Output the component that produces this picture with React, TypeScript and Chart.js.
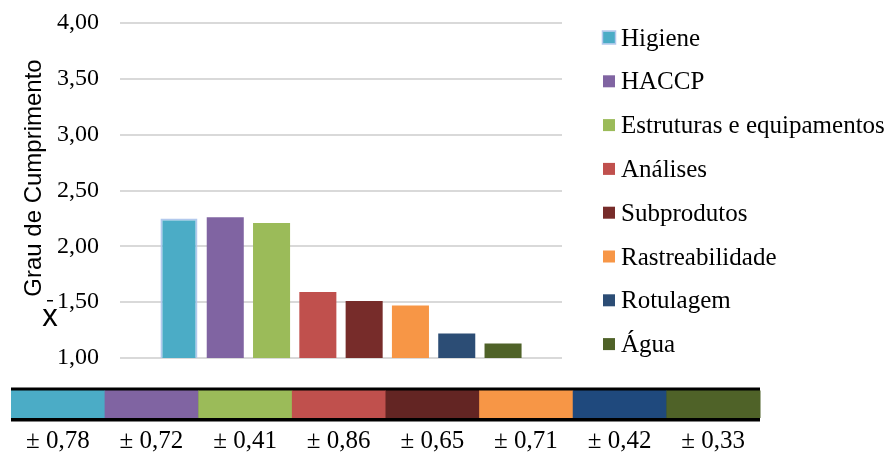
import React, { useEffect, useRef } from "react";
import { Chart, registerables } from "chart.js";

Chart.register(...registerables);

// Compliance categories and their mean score (x̄) with standard deviation
const categories = [
  "Higiene",
  "HACCP",
  "Estruturas e equipamentos",
  "Análises",
  "Subprodutos",
  "Rastreabilidade",
  "Rotulagem",
  "Água",
];
const means = [2.25, 2.26, 2.21, 1.59, 1.51, 1.47, 1.22, 1.13];
const deviations = [0.78, 0.72, 0.41, 0.86, 0.65, 0.71, 0.42, 0.33];
const barColors = [
  "#4BACC6",
  "#8064A2",
  "#9BBB59",
  "#C0504D",
  "#772C2A",
  "#F79646",
  "#2C4D75",
  "#4F6228",
];
const stripColors = [
  "#4BACC6",
  "#8064A2",
  "#9BBB59",
  "#C0504D",
  "#632523",
  "#F79646",
  "#1F497D",
  "#4F6228",
];
const yTicks = [1, 1.5, 2, 2.5, 3, 3.5, 4];

const fmt = (v: number) => v.toFixed(2).replace(".", ",");

const SERIF = "'Liberation Serif', 'Times New Roman', serif";
const SANS = "'Liberation Sans', Arial, sans-serif";

const extrasPlugin = {
  id: "extras",
  afterDraw(chart: any) {
    const ctx: CanvasRenderingContext2D = chart.ctx;
    ctx.save();

    // Y axis title
    ctx.fillStyle = "#000";
    ctx.font = `24px ${SANS}`;
    ctx.textAlign = "center";
    ctx.textBaseline = "middle";
    ctx.save();
    ctx.translate(34, 178);
    ctx.rotate(-Math.PI / 2);
    ctx.fillText("Grau de Cumprimento", 0, 0);
    ctx.restore();

    // x̄ symbol
    ctx.font = `31px ${SANS}`;
    ctx.textBaseline = "alphabetic";
    ctx.fillText("x", 50, 326);
    ctx.fillRect(47, 300, 6, 1.5);

    // Legend
    const legendX = 603;
    const legendY0 = 37.5;
    const legendStep = 43.8;
    ctx.textAlign = "left";
    ctx.font = `25px ${SERIF}`;
    categories.forEach((name, i) => {
      const cy = legendY0 + i * legendStep;
      ctx.fillStyle = barColors[i];
      ctx.fillRect(legendX, cy - 6, 12, 12);
      if (i === 0) {
        ctx.strokeStyle = "rgba(170,195,235,0.9)";
        ctx.lineWidth = 1.5;
        ctx.strokeRect(legendX - 0.5, cy - 6.5, 13, 13);
      }
      ctx.fillStyle = "#000";
      ctx.fillText(name, legendX + 18, cy + 8);
    });

    // Deviation strip below the chart
    const sx0 = 11;
    const sx1 = 760;
    const cellW = (sx1 - sx0) / categories.length;
    ctx.fillStyle = "#000";
    ctx.fillRect(sx0, 387.5, sx1 - sx0, 34);
    stripColors.forEach((c, i) => {
      ctx.fillStyle = c;
      ctx.fillRect(sx0 + i * cellW, 390.5, cellW + 0.5, 27.5);
    });
    ctx.fillStyle = "#000";
    ctx.textAlign = "center";
    ctx.font = `25px ${SERIF}`;
    deviations.forEach((d, i) => {
      ctx.fillText(`± ${fmt(d)}`, sx0 + (i + 0.5) * cellW, 448);
    });

    ctx.restore();
  },
};

export default function App() {
  const canvasRef = useRef<HTMLCanvasElement | null>(null);

  useEffect(() => {
    if (!canvasRef.current) return;
    const chart = new Chart(canvasRef.current, {
      type: "bar",
      data: {
        labels: [""],
        datasets: categories.map((name, i) => ({
          label: name,
          data: [means[i]],
          backgroundColor: barColors[i],
          borderColor: i === 0 ? "rgba(170,195,235,0.9)" : barColors[i],
          borderWidth: i === 0 ? 2 : 0,
          categoryPercentage: 0.838,
          barPercentage: 0.8,
        })),
      },
      options: {
        responsive: false,
        animation: false,
        layout: { padding: { left: 0, top: 23, right: 327, bottom: 97 } },
        plugins: {
          legend: { display: false },
          tooltip: { enabled: false },
        },
        scales: {
          x: { display: false },
          y: {
            min: 1,
            max: 4,
            afterFit: (scale: any) => {
              scale.width = 120;
              scale.paddingTop = 0;
              scale.paddingBottom = 0;
            },
            afterBuildTicks: (scale: any) => {
              scale.ticks = yTicks.map((v) => ({ value: v }));
            },
            border: { display: false },
            grid: { color: "#d9d9d9", lineWidth: 2, drawTicks: false },
            ticks: {
              padding: 21,
              color: "#000",
              font: { family: SERIF, size: 24 },
              callback: (v: any) => fmt(Number(v)),
            },
          },
        },
      },
      plugins: [extrasPlugin],
    });
    return () => chart.destroy();
  }, []);

  return (
    <div style={{ position: "fixed", left: 0, top: 0, width: 889, height: 455, background: "#fff" }}>
      <canvas ref={canvasRef} width={889} height={455} style={{ display: "block" }} />
    </div>
  );
}
